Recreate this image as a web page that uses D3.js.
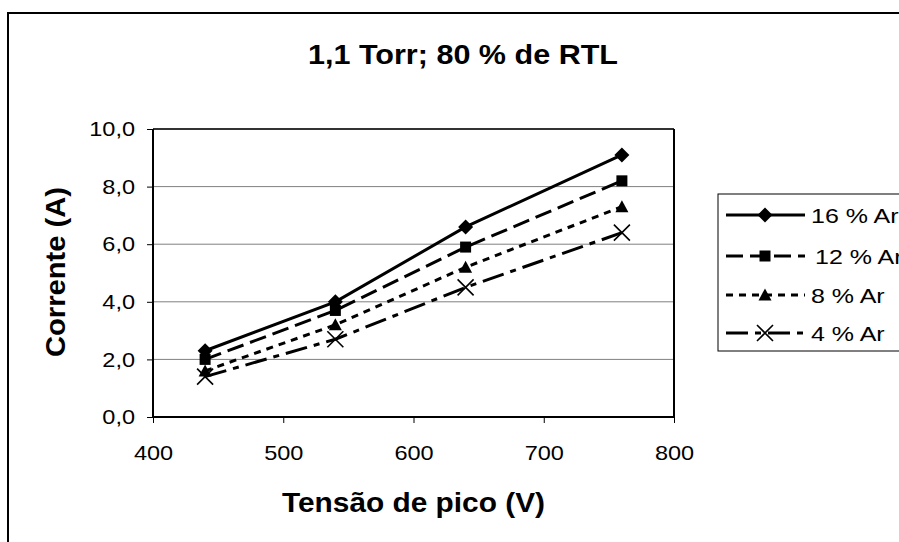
<!DOCTYPE html>
<html><head><meta charset="utf-8">
<script src="https://cdn.jsdelivr.net/npm/d3@7"></script>
<style>body{margin:0;background:#fff;}svg{display:block;font-family:Arial,"Liberation Sans",sans-serif;}</style>
</head><body>
<svg id="c" width="899" height="542"></svg>
<script>
const xValues = [440, 540, 640, 760];
const seriesNames = ["16 % Ar", "12 % Ar", "8 % Ar", "4 % Ar"];
const s16 = [2.3, 4.0, 6.6, 9.1];
const s12 = [2.0, 3.7, 5.9, 8.2];
const s8 = [1.6, 3.2, 5.2, 7.3];
const s4 = [1.4, 2.7, 4.5, 6.4];
const xTicks = [400, 500, 600, 700, 800];
const yTicks = [0, 2, 4, 6, 8, 10];
const title = "1,1 Torr; 80 % de RTL";
const xTitle = "Tensão de pico (V)";
const yTitle = "Corrente (A)";

const series = [
  {name: seriesNames[0], vals: s16, dash: null, marker: "diamond"},
  {name: seriesNames[1], vals: s12, dash: "17,7", marker: "square"},
  {name: seriesNames[2], vals: s8, dash: "7,6", marker: "triangle"},
  {name: seriesNames[3], vals: s4, dash: "22,7,6,7", marker: "x"}
];

const FONT = "Arial, 'Liberation Sans', sans-serif";
const svg = d3.select("#c");
const L = 153, R = 674, T = 129, B = 417;
const x = d3.scaleLinear().domain([400, 800]).range([L, R]);
const y = d3.scaleLinear().domain([0, 10]).range([B, T]);
const fmt = d => d.toFixed(1).replace(".", ",");
function stretch(sel, k) {
  sel.each(function() {
    const w = this.getComputedTextLength();
    d3.select(this).attr("textLength", w * k).attr("lengthAdjust", "spacingAndGlyphs");
  });
}

// outer chart border
svg.append("rect").attr("x", 8).attr("y", 13).attr("width", 1000).attr("height", 1000)
  .attr("fill", "none").attr("stroke", "#000").attr("stroke-width", 2);

// gridlines
svg.append("g").selectAll("line").data(yTicks.filter(d => d > 0 && d < 10)).join("line")
  .attr("x1", L).attr("x2", R).attr("y1", d => y(d)).attr("y2", d => y(d))
  .attr("stroke", "#808080").attr("stroke-width", 1);

// plot border top/right
svg.append("line").attr("x1", L).attr("x2", R).attr("y1", T).attr("y2", T).attr("stroke", "#333").attr("stroke-width", 2);
svg.append("line").attr("x1", R).attr("x2", R).attr("y1", T).attr("y2", B).attr("stroke", "#000").attr("stroke-width", 2);

// axes
const yAxis = d3.axisLeft(y).tickValues(yTicks).tickFormat(fmt).tickSize(6).tickPadding(12);
const gy = svg.append("g").attr("transform", `translate(${L},0)`).call(yAxis);
const xAxis = d3.axisBottom(x).tickValues(xTicks).tickFormat(d3.format("d")).tickSize(6);
const gx = svg.append("g").attr("transform", `translate(0,${B})`).call(xAxis);
[gy, gx].forEach(g => {
  g.select(".domain").attr("stroke", "#000").attr("stroke-width", 2);
  g.selectAll(".tick line").attr("stroke", "#000").attr("stroke-width", 1);
  g.selectAll(".tick text").attr("font-size", 21).attr("fill", "#000").attr("font-family", FONT);
  stretch(g.selectAll(".tick text"), 1.12);
});
gx.selectAll(".tick text").attr("y", 43).attr("dy", 0);
gy.select(".domain").attr("d", `M-0,${T}V${B}`);
gx.select(".domain").attr("d", `M${L},0H${R}`);

// series
const line = d3.line().x((d, i) => x(xValues[i])).y(d => y(d));
function drawMarker(g, type, cx, cy) {
  const m = g.append("g").attr("transform", `translate(${cx},${cy})`);
  if (type === "diamond") {
    const h = 7.5;
    m.append("path").attr("d", `M0,${-h}L${h},0L0,${h}L${-h},0Z`).attr("fill", "#000");
  } else if (type === "square") {
    m.append("rect").attr("x", -5.5).attr("y", -5.5).attr("width", 11).attr("height", 11).attr("fill", "#000");
  } else if (type === "triangle") {
    m.append("path").attr("d", "M0,-6.5L6.5,5.5L-6.5,5.5Z").attr("fill", "#000");
  } else {
    const r = 8;
    m.append("path").attr("d", `M${-r},${-r}L${r},${r}M${-r},${r}L${r},${-r}`).attr("fill", "none")
      .attr("stroke", "#000").attr("stroke-width", 1.6);
  }
}
series.forEach(s => {
  const g = svg.append("g");
  g.append("path").attr("d", line(s.vals)).attr("fill", "none").attr("stroke", "#000").attr("stroke-width", 3)
    .attr("stroke-dasharray", s.dash);
  s.vals.forEach((v, i) => drawMarker(g, s.marker, x(xValues[i]), y(v)));
});

// legend
const lg = svg.append("g");
lg.append("rect").attr("x", 718).attr("y", 194).attr("width", 300).attr("height", 157)
  .attr("fill", "#fff").attr("stroke", "#000").attr("stroke-width", 1);
const legY = [215, 256, 295, 333];
series.forEach((s, i) => {
  const yy = legY[i];
  lg.append("line").attr("x1", 726).attr("x2", 805).attr("y1", yy).attr("y2", yy)
    .attr("stroke", "#000").attr("stroke-width", 3).attr("stroke-dasharray", s.dash);
  drawMarker(lg, s.marker, 765, yy);
  const t = lg.append("text").attr("x", i === 1 ? 815 : 811).attr("y", yy + 7.5)
    .attr("font-size", 21).attr("font-family", FONT).text(s.name);
  stretch(t, 1.19);
});

// titles
svg.append("text").attr("x", 463).attr("y", 64).attr("text-anchor", "middle")
  .attr("font-size", 28).attr("font-weight", "bold").attr("font-family", FONT)
  .attr("textLength", 310).attr("lengthAdjust", "spacingAndGlyphs").text(title);
svg.append("text").attr("x", 413.5).attr("y", 512).attr("text-anchor", "middle")
  .attr("font-size", 28).attr("font-weight", "bold").attr("font-family", FONT)
  .attr("textLength", 263).attr("lengthAdjust", "spacingAndGlyphs").text(xTitle);
svg.append("text").attr("transform", "translate(65,272) rotate(-90)").attr("text-anchor", "middle")
  .attr("font-size", 28).attr("font-weight", "bold").attr("font-family", FONT)
  .attr("textLength", 170).attr("lengthAdjust", "spacingAndGlyphs").text(yTitle);
</script>
</body></html>
